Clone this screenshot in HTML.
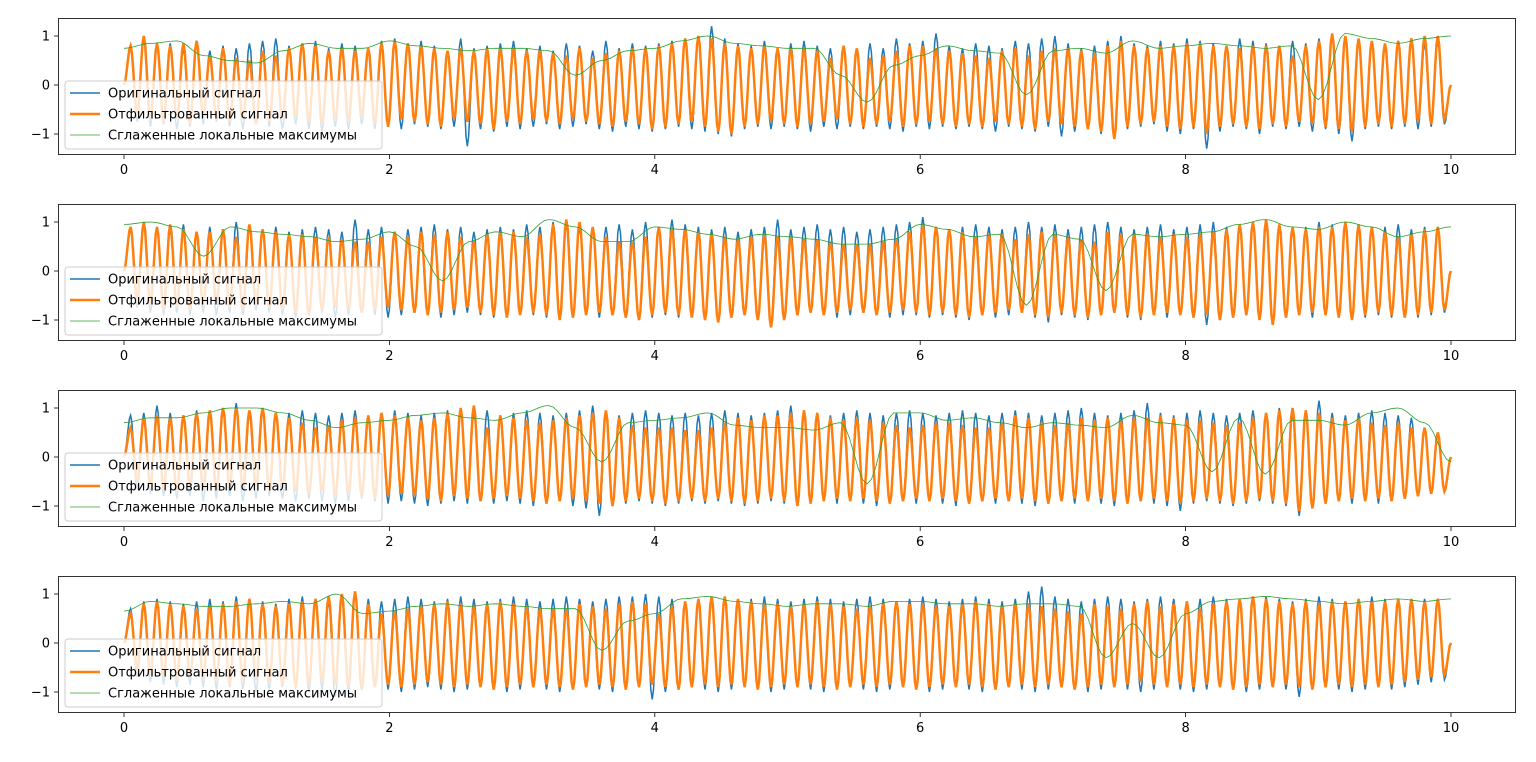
<!DOCTYPE html>
<html><head><meta charset="utf-8"><style>
body{margin:0;background:#fff;}
svg{display:block;font-family:"DejaVu Sans","Liberation Sans",sans-serif;}
</style></head><body>
<svg id="chart" width="1536" height="762" viewBox="0 0 1536 762" xmlns="http://www.w3.org/2000/svg"></svg>
<script>
const xTicks=[0,2,4,6,8,10];
const yTicks=[-1,0,1];
const legendLabels=["Оригинальный сигнал","Отфильтрованный сигнал","Сглаженные локальные максимумы"];
// per-cycle peaks (100 cycles over 10 s)
const orangeMax1=[0.8,1.0,0.85,0.8,0.85,0.9,0.6,0.75,0.55,0.5,0.7,0.6,0.75,0.85,0.8,0.7,0.75,0.7,0.75,0.85,0.9,0.85,0.8,0.75,0.7,0.75,0.7,0.75,0.75,0.75,0.7,0.7,0.65,0.6,0.75,0.55,0.65,0.7,0.75,0.75,0.8,0.85,0.95,1.0,0.95,0.85,0.8,0.75,0.8,0.75,0.75,0.75,0.7,0.55,0.8,0.75,0.55,0.6,0.7,0.8,0.8,0.75,0.7,0.65,0.6,0.55,0.7,0.75,0.6,0.7,0.75,0.75,0.7,0.65,0.8,0.9,0.8,0.75,0.8,0.8,0.85,0.85,0.8,0.8,0.75,0.8,0.8,0.8,0.6,0.8,0.9,1.05,1.0,0.95,0.9,0.85,0.9,0.95,1.0,1.0];
const orangeMin1=[-0.6,-0.7,-0.75,-0.7,-0.8,-0.65,-0.7,-0.75,-0.7,-0.8,-0.75,-0.7,-0.65,-0.75,-0.8,-0.7,-0.75,-0.65,-0.8,-0.85,-0.7,-0.75,-0.8,-0.85,-0.7,-0.75,-0.8,-0.9,-0.75,-0.8,-0.7,-0.75,-0.8,-0.7,-0.75,-0.8,-0.85,-0.75,-0.8,-0.9,-0.85,-0.8,-0.75,-0.85,-0.95,-1.0,-0.85,-0.8,-0.75,-0.8,-0.85,-0.8,-0.75,-0.7,-0.8,-0.85,-0.8,-0.75,-0.85,-0.8,-0.75,-0.8,-0.85,-0.8,-0.85,-0.75,-0.8,-0.85,-0.9,-0.75,-0.8,-0.85,-0.9,-0.95,-1.1,-0.85,-0.8,-0.75,-0.85,-0.9,-0.85,-1.0,-0.85,-0.8,-0.85,-0.9,-0.8,-0.85,-0.75,-0.8,-0.85,-0.9,-0.95,-0.85,-0.8,-0.85,-0.8,-0.75,-0.8,-0.7];
const blueMax1=[0.75,0.95,0.8,0.85,0.75,0.9,0.7,0.8,0.75,0.85,0.9,0.95,0.8,0.85,0.9,0.75,0.85,0.8,0.7,0.9,0.95,0.85,0.9,0.8,0.7,0.95,0.75,0.8,0.85,0.9,0.75,0.8,0.7,0.85,0.8,0.7,0.9,0.75,0.85,0.8,0.85,0.9,0.95,1.0,1.2,0.95,0.85,0.8,0.9,0.75,0.85,0.9,0.8,0.75,0.8,0.7,0.85,0.75,0.95,0.85,0.9,1.05,0.8,0.75,0.85,0.8,0.75,0.9,0.85,0.95,1.0,0.85,0.75,0.8,0.9,1.0,0.85,0.8,0.9,0.85,0.95,0.9,0.85,0.8,0.95,0.9,0.85,0.8,0.9,0.85,0.95,1.0,0.95,0.9,0.85,0.8,0.9,0.95,0.85,0.9];
const blueMin1=[-0.75,-0.85,-0.8,-0.9,-0.85,-0.8,-0.75,-0.85,-0.9,-0.8,-0.85,-0.9,-0.8,-0.9,-0.95,-0.85,-0.9,-0.8,-0.9,-0.85,-0.9,-0.8,-0.85,-0.9,-0.85,-1.25,-0.9,-0.95,-0.85,-0.9,-0.85,-0.8,-0.9,-0.85,-0.8,-0.9,-0.95,-0.85,-0.9,-0.95,-0.9,-0.85,-0.9,-0.95,-1.0,-1.05,-0.9,-0.85,-0.9,-0.85,-0.9,-0.95,-0.85,-0.9,-0.85,-0.9,-0.85,-0.9,-0.95,-0.85,-0.9,-0.85,-0.9,-0.85,-0.9,-0.95,-0.85,-0.9,-0.95,-0.85,-1.05,-0.95,-0.9,-1.0,-1.1,-0.9,-0.85,-0.8,-0.95,-1.0,-0.9,-1.3,-0.95,-0.85,-0.9,-1.0,-0.85,-0.9,-0.85,-0.95,-0.9,-1.0,-1.15,-0.9,-0.85,-0.9,-0.85,-0.9,-0.85,-0.8];
const green1=[0.75,0.85,0.9,0.6,0.5,0.45,0.7,0.85,0.75,0.75,0.9,0.8,0.75,0.7,0.75,0.75,0.7,0.2,0.5,0.7,0.75,0.9,1.0,0.85,0.8,0.75,0.75,0.2,-0.35,0.4,0.6,0.8,0.7,0.65,-0.2,0.7,0.75,0.65,0.9,0.75,0.8,0.85,0.8,0.75,0.8,-0.3,1.05,0.95,0.85,0.95,1.0];
const orangeMax2=[0.9,1.0,0.9,0.95,0.85,0.8,0.8,0.85,0.7,0.95,0.85,0.8,0.75,0.75,0.7,0.7,0.65,0.6,0.6,0.7,0.8,0.7,0.8,0.75,0.8,0.7,0.6,0.75,0.8,0.8,0.7,0.75,0.95,1.05,1.0,0.9,0.7,0.6,0.6,0.7,0.9,0.85,0.85,0.8,0.75,0.7,0.65,0.7,0.75,0.7,0.7,0.65,0.65,0.6,0.55,0.55,0.55,0.6,0.65,0.8,0.95,0.9,0.85,0.8,0.7,0.75,0.75,0.65,0.75,0.8,0.75,0.7,0.65,0.6,0.8,0.75,0.75,0.75,0.7,0.75,0.7,0.75,0.8,0.85,0.95,1.0,1.05,0.95,0.9,0.85,0.9,0.9,1.0,0.95,0.9,0.8,0.7,0.75,0.85,0.9];
const orangeMin2=[-0.6,-0.7,-0.8,-0.75,-0.8,-0.7,-0.65,-0.75,-0.8,-0.7,-0.75,-0.8,-0.85,-0.9,-0.8,-0.75,-0.8,-0.85,-0.8,-0.75,-0.8,-0.85,-0.9,-0.85,-0.8,-0.75,-0.85,-0.9,-0.95,-0.9,-0.85,-0.9,-1.0,-0.95,-0.9,-0.85,-0.9,-0.95,-1.0,-0.9,-0.85,-0.9,-0.95,-1.0,-1.05,-0.95,-0.9,-1.0,-1.15,-1.0,-0.9,-0.85,-0.9,-0.85,-0.8,-0.85,-0.9,-0.85,-0.8,-0.85,-0.9,-0.85,-0.9,-0.95,-0.9,-0.85,-0.8,-0.85,-0.9,-0.95,-0.85,-0.9,-0.95,-0.9,-0.85,-0.9,-0.95,-0.9,-0.85,-0.9,-0.95,-0.9,-1.0,-0.95,-0.9,-1.0,-1.1,-0.95,-0.9,-0.85,-0.9,-0.95,-1.0,-0.9,-0.85,-0.9,-0.95,-0.9,-0.85,-0.8];
const blueMax2=[0.85,0.95,0.9,0.85,0.95,0.8,0.9,0.85,1.0,0.9,0.85,0.9,0.8,0.85,0.9,0.85,0.8,1.05,0.85,0.9,0.8,0.85,0.9,0.95,0.85,0.9,0.8,0.85,0.9,0.85,0.95,0.9,1.0,0.95,0.9,0.85,0.9,0.95,0.85,1.0,0.9,1.05,0.95,0.9,0.85,0.9,0.8,0.85,0.9,1.05,0.85,0.9,0.95,0.85,0.9,0.8,0.85,0.9,0.95,1.0,1.1,0.9,0.85,0.9,0.95,0.9,0.85,0.9,1.0,0.9,0.95,0.85,0.9,0.95,1.0,0.9,0.85,0.9,0.95,0.85,0.9,0.95,1.0,0.9,0.95,1.0,0.95,0.9,0.85,0.9,1.0,0.95,1.0,0.9,0.85,0.9,0.95,0.85,0.9,0.9];
const blueMin2=[-0.75,-0.85,-0.9,-0.85,-0.9,-0.85,-0.9,-0.85,-0.9,-0.8,-0.85,-0.9,-0.95,-0.9,-0.85,-0.95,-0.9,-0.85,-0.9,-0.95,-0.9,-0.85,-0.9,-0.95,-0.9,-0.85,-0.9,-0.95,-0.9,-0.85,-0.9,-0.95,-1.0,-0.95,-0.9,-0.95,-0.9,-0.95,-1.0,-0.95,-0.9,-0.95,-0.9,-1.0,-1.05,-0.95,-0.9,-0.95,-1.1,-1.0,-0.9,-0.85,-0.9,-0.95,-0.9,-0.85,-0.9,-0.95,-0.9,-0.9,-0.95,-0.9,-0.95,-1.0,-0.9,-0.95,-0.9,-0.85,-0.95,-1.05,-0.9,-0.95,-1.0,-0.9,-0.85,-0.95,-1.0,-0.9,-0.95,-0.9,-0.95,-1.1,-1.0,-0.95,-0.9,-1.0,-1.05,-0.95,-0.9,-0.95,-0.9,-0.95,-1.0,-0.95,-0.9,-0.95,-0.9,-0.95,-0.9,-0.85];
const green2=[0.95,1.0,0.9,0.3,0.9,0.8,0.75,0.7,0.6,0.65,0.8,0.5,-0.2,0.6,0.8,0.7,1.05,0.9,0.6,0.6,0.9,0.85,0.75,0.65,0.75,0.7,0.65,0.55,0.55,0.65,0.95,0.85,0.7,0.75,-0.7,0.75,0.65,-0.4,0.75,0.7,0.75,0.8,0.95,1.05,0.9,0.85,1.0,0.9,0.7,0.8,0.9];
const orangeMax3=[0.6,0.8,0.85,0.8,0.85,0.9,0.95,1.0,1.0,0.95,1.0,0.9,0.8,0.7,0.6,0.65,0.75,0.8,0.85,0.9,0.85,0.8,0.75,0.8,0.9,1.0,1.05,0.6,0.85,0.8,0.75,0.7,0.75,0.8,0.85,0.9,0.95,0.8,0.65,0.6,0.6,0.6,0.55,0.55,0.6,0.7,0.8,0.75,0.85,0.85,0.9,0.95,0.9,0.8,0.75,0.8,0.75,0.7,0.65,0.6,0.65,0.7,0.7,0.65,0.6,0.6,0.7,0.85,0.8,0.7,0.65,0.7,0.8,0.75,0.8,0.75,0.8,0.8,0.85,0.8,0.75,0.75,0.7,0.65,0.7,0.8,0.9,0.95,1.0,0.95,0.9,0.8,0.75,0.8,0.7,0.65,0.7,0.6,0.6,0.5];
const orangeMin3=[-0.5,-0.6,-0.65,-0.7,-0.6,-0.65,-0.7,-0.6,-0.65,-0.6,-0.7,-0.65,-0.7,-0.75,-0.7,-0.8,-0.75,-0.8,-0.85,-0.8,-0.75,-0.8,-0.85,-0.9,-0.8,-0.85,-0.9,-0.85,-0.8,-0.85,-0.9,-0.95,-0.9,-0.85,-0.9,-0.95,-1.0,-0.9,-0.85,-0.9,-0.95,-0.9,-0.85,-0.9,-0.85,-0.9,-0.95,-0.9,-0.85,-0.9,-1.0,-0.95,-0.9,-0.85,-0.9,-0.85,-0.9,-0.95,-0.9,-0.85,-0.9,-0.85,-0.9,-0.95,-0.9,-0.85,-0.9,-0.85,-0.9,-0.95,-0.9,-0.85,-0.9,-0.85,-0.9,-0.95,-0.9,-0.85,-0.9,-0.95,-0.9,-0.85,-0.9,-0.95,-0.9,-0.85,-0.9,-0.95,-1.1,-1.05,-0.95,-0.9,-0.85,-0.9,-0.85,-0.9,-0.85,-0.8,-0.75,-0.7];
const blueMax3=[0.85,0.9,1.05,0.9,0.85,0.95,0.9,0.95,1.1,0.9,0.95,0.85,0.9,0.95,0.9,0.85,0.9,0.95,0.85,0.9,0.95,0.9,0.85,0.9,0.95,1.0,0.9,0.95,0.85,0.9,0.95,0.9,0.85,0.9,0.95,1.05,0.9,0.85,0.9,0.95,0.9,0.85,0.9,0.85,0.9,0.95,0.9,0.85,0.9,0.95,1.05,0.95,0.9,0.85,0.9,0.95,0.9,0.85,0.9,0.95,0.9,0.85,0.9,0.95,0.9,0.85,0.9,0.95,0.9,0.85,0.9,0.95,1.0,0.9,0.85,0.9,0.95,1.1,0.9,0.85,0.9,0.95,0.9,0.85,0.9,0.95,0.9,1.0,0.9,0.95,1.15,0.9,0.85,0.9,0.95,0.9,0.85,0.8,0.6,0.5];
const blueMin3=[-0.65,-0.75,-0.8,-0.85,-0.8,-0.9,-0.85,-0.8,-0.9,-0.85,-0.8,-0.85,-0.9,-0.85,-0.9,-0.95,-0.9,-0.85,-0.9,-0.95,-0.9,-0.95,-1.0,-0.95,-0.9,-0.95,-0.9,-0.95,-0.9,-0.95,-1.0,-0.95,-0.9,-1.0,-1.05,-1.2,-1.0,-0.95,-0.9,-0.95,-1.0,-0.95,-0.9,-0.95,-0.9,-0.95,-1.0,-0.95,-0.9,-0.95,-1.0,-0.95,-0.9,-0.95,-0.9,-0.95,-1.0,-0.95,-0.9,-0.95,-0.9,-0.95,-1.0,-0.95,-0.9,-0.95,-0.9,-0.95,-1.0,-0.95,-0.9,-0.95,-0.9,-0.95,-1.0,-0.95,-0.9,-0.95,-1.0,-1.1,-0.95,-0.9,-0.95,-1.0,-0.95,-0.9,-0.95,-1.0,-1.2,-1.05,-0.95,-0.9,-0.95,-0.9,-0.95,-0.9,-0.85,-0.8,-0.75,-0.7];
const green3=[0.7,0.8,0.8,0.9,1.0,1.0,0.9,0.75,0.6,0.7,0.75,0.85,0.9,0.8,0.75,0.9,1.05,0.6,-0.1,0.7,0.75,0.8,0.9,0.65,0.6,0.6,0.55,0.7,-0.55,0.9,0.9,0.75,0.8,0.7,0.6,0.7,0.65,0.6,0.85,0.7,0.65,-0.3,0.8,-0.35,0.75,0.75,0.65,0.9,1.0,0.7,-0.1];
const orangeMax4=[0.6,0.8,0.85,0.8,0.75,0.7,0.75,0.8,0.85,0.9,0.8,0.75,0.8,0.85,0.9,0.95,1.0,1.05,0.8,0.6,0.65,0.7,0.75,0.8,0.85,0.8,0.75,0.8,0.85,0.8,0.75,0.7,0.7,0.7,0.8,0.75,0.7,0.8,0.85,0.8,0.6,0.75,0.85,0.9,0.95,0.95,0.9,0.85,0.8,0.8,0.75,0.8,0.85,0.8,0.75,0.7,0.75,0.8,0.85,0.8,0.8,0.75,0.75,0.8,0.85,0.8,0.75,0.8,0.8,0.75,0.7,0.65,0.6,0.8,0.75,0.7,0.8,0.85,0.75,0.8,0.85,0.7,0.8,0.85,0.9,0.95,0.9,0.85,0.8,0.85,0.8,0.85,0.85,0.9,0.85,0.85,0.9,0.9,0.85,0.9];
const orangeMin4=[-0.55,-0.65,-0.7,-0.75,-0.7,-0.75,-0.8,-0.85,-0.8,-0.75,-0.8,-0.85,-0.9,-0.85,-0.8,-0.85,-0.9,-0.95,-0.9,-0.85,-0.9,-0.85,-0.8,-0.85,-0.9,-0.85,-0.9,-0.95,-0.9,-0.85,-0.9,-0.85,-0.9,-0.95,-0.9,-0.85,-0.9,-0.95,-0.9,-0.85,-0.9,-0.95,-0.9,-0.85,-0.9,-0.85,-0.9,-0.95,-0.9,-0.85,-0.9,-0.85,-0.9,-0.95,-0.9,-0.85,-0.9,-0.85,-0.9,-0.95,-0.9,-0.85,-0.9,-0.85,-0.9,-0.95,-0.9,-0.85,-0.9,-0.85,-0.9,-0.95,-0.9,-0.85,-0.9,-0.85,-0.8,-0.85,-0.9,-0.85,-0.9,-0.85,-0.9,-0.95,-0.9,-0.85,-0.9,-0.85,-0.9,-0.95,-0.9,-0.85,-0.9,-0.85,-0.9,-0.85,-0.8,-0.75,-0.7,-0.65];
const blueMax4=[0.7,0.85,0.9,0.85,0.8,0.85,0.9,0.85,0.95,0.9,0.85,0.8,0.9,0.95,0.9,0.85,0.95,1.05,0.9,0.85,0.9,0.95,0.9,0.85,0.9,0.95,0.9,0.85,0.9,0.95,0.9,0.85,0.9,0.95,0.9,0.85,0.9,0.95,0.95,1.0,0.95,0.9,0.85,0.9,0.95,0.9,0.85,0.9,0.95,0.9,0.85,0.9,0.95,0.9,0.85,0.9,0.95,0.9,0.85,0.9,0.95,0.9,0.85,0.9,0.95,0.9,0.85,0.9,1.05,1.15,0.95,0.9,0.85,0.9,0.95,0.9,0.85,0.9,0.95,0.9,0.85,0.9,0.95,0.9,0.85,0.9,0.95,0.9,0.85,0.9,0.95,0.9,0.85,0.9,0.95,0.9,0.85,0.9,0.9,0.9];
const blueMin4=[-0.7,-0.8,-0.85,-0.9,-0.85,-0.9,-0.95,-0.9,-0.95,-1.0,-0.95,-0.9,-0.95,-1.0,-0.95,-1.1,-1.0,-0.95,-0.9,-0.95,-1.0,-0.95,-0.9,-0.95,-1.0,-0.95,-0.9,-0.95,-1.0,-0.95,-0.9,-0.95,-1.0,-0.95,-0.9,-0.95,-1.0,-0.95,-0.9,-1.15,-1.0,-0.95,-0.9,-0.95,-1.0,-0.95,-0.9,-0.95,-1.0,-0.95,-0.9,-0.95,-1.0,-0.95,-0.9,-0.95,-1.0,-0.95,-0.9,-0.95,-1.0,-0.95,-0.9,-0.95,-1.0,-0.95,-0.9,-0.95,-1.0,-0.95,-0.9,-0.95,-1.0,-0.95,-0.9,-0.95,-1.0,-0.95,-0.9,-0.95,-1.0,-0.95,-0.9,-0.95,-1.0,-0.95,-0.9,-0.95,-1.1,-0.95,-0.9,-0.95,-1.0,-0.95,-0.9,-0.95,-0.9,-0.85,-0.8,-0.75];
const green4=[0.65,0.85,0.8,0.75,0.75,0.8,0.85,0.8,1.0,0.6,0.65,0.75,0.8,0.75,0.8,0.75,0.7,0.7,-0.15,0.45,0.6,0.9,0.95,0.85,0.8,0.75,0.8,0.8,0.75,0.85,0.85,0.8,0.8,0.75,0.8,0.8,0.75,-0.3,0.4,-0.3,0.6,0.85,0.9,0.95,0.9,0.85,0.8,0.85,0.9,0.85,0.9];

const panels=[
 {top:18,om:orangeMax1,on:orangeMin1,bm:blueMax1,bn:blueMin1,g:green1},
 {top:204,om:orangeMax2,on:orangeMin2,bm:blueMax2,bn:blueMin2,g:green2},
 {top:390,om:orangeMax3,on:orangeMin3,bm:blueMax3,bn:blueMin3,g:green3},
 {top:576,om:orangeMax4,on:orangeMin4,bm:blueMax4,bn:blueMin4,g:green4}
];
const NS="http://www.w3.org/2000/svg";
const svg=document.getElementById('chart');
function mk(tag,attrs,parent){const e=document.createElementNS(NS,tag);for(const k in attrs)e.setAttribute(k,attrs[k]);(parent||svg).appendChild(e);return e;}
const L=58,R=1516,H=137;
const xs=t=>124+t*(1451-124)/10;
function oscPath(maxA,minA,ys){
  const ext=[0];const n=maxA.length;
  for(let k=0;k<n;k++){ext.push(maxA[k]);ext.push(minA[k]);}
  ext.push(0);
  const dt=10/(ext.length-1);
  let d='';
  for(let i=0;i<ext.length-1;i++){
    for(let s=0;s<5;s++){
      const f=s/5,w=(1-Math.cos(Math.PI*f))/2;
      const v=ext[i]*(1-w)+ext[i+1]*w;
      d+=(d?'L':'M')+xs((i+f)*dt).toFixed(1)+','+ys(v).toFixed(1);
    }
  }
  d+='L'+xs(10).toFixed(1)+','+ys(ext[ext.length-1]).toFixed(1);
  return d;
}
function envPath(g,ys){
  const dt=10/(g.length-1);let d='';
  for(let i=0;i<g.length-1;i++){
    for(let s=0;s<6;s++){
      const f=s/6,w=(1-Math.cos(Math.PI*f))/2;
      const v=g[i]*(1-w)+g[i+1]*w;
      d+=(d?'L':'M')+xs((i+f)*dt).toFixed(1)+','+ys(v).toFixed(1);
    }
  }
  d+='L'+xs(10)+','+ys(g[g.length-1]).toFixed(1);
  return d;
}
panels.forEach((p,pi)=>{
  const g=mk('g',{});
  
  
  const y0=p.top+67;
  const ys=v=>y0-v*49;
  const clipId='clip'+pi;
  const cp=mk('clipPath',{id:clipId},g);mk('rect',{x:L,y:p.top,width:R-L,height:H},cp);
  const pl=mk('g',{'clip-path':'url(#'+clipId+')'},g);
  const b=mk('path',{d:oscPath(p.bm,p.bn,ys),fill:'none',stroke:'#1f77b4','stroke-width':1.5},pl);
  
  
  const o=mk('path',{d:oscPath(p.om,p.on,ys),fill:'none',stroke:'#ff7f0e','stroke-width':2.5},pl);
  
  
  const gr=mk('path',{d:envPath(p.g,ys),fill:'none',stroke:'#2ca02c','stroke-width':0.8},pl);
  
  
  const fr=mk('rect',{x:L+0.5,y:p.top+0.5,width:R-L-1,height:H-1,fill:'none',stroke:'#000','stroke-width':0.8},g);
  
  
  xTicks.forEach(t=>{
    mk('line',{x1:xs(t),x2:xs(t),y1:p.top+H,y2:p.top+H+4,stroke:'#000','stroke-width':0.8},g);
    const tx=mk('text',{x:xs(t),y:p.top+H+19,'font-size':13,'text-anchor':'middle'},g);
    tx.textContent=t;
    
    
  });
  yTicks.forEach(v=>{
    mk('line',{x1:L-4,x2:L,y1:ys(v),y2:ys(v),stroke:'#000','stroke-width':0.8},g);
    const tx=mk('text',{x:L-8,y:ys(v)+4.5,'font-size':13,'text-anchor':'end'},g);
    tx.textContent=v<0?'\u2212'+(-v):v;
    
    
  });
  const lg=mk('g',{},g);
  
  
  mk('rect',{x:65,y:p.top+63,width:317,height:68,rx:3,fill:'#fff','fill-opacity':0.8,stroke:'#ccc','stroke-width':1},lg);
  const cols=['#1f77b4','#ff7f0e','#2ca02c'],wd=[1.5,2.5,0.8];
  legendLabels.forEach((lab,i)=>{
    const yy=p.top+75+i*21;
    mk('line',{x1:70,x2:100,y1:yy,y2:yy,stroke:cols[i],'stroke-width':wd[i]},lg);
    const tx=mk('text',{x:108,y:yy+4.5,'font-size':13},lg);
    tx.textContent=lab;
    
    
  });
});
</script>
</body></html>
